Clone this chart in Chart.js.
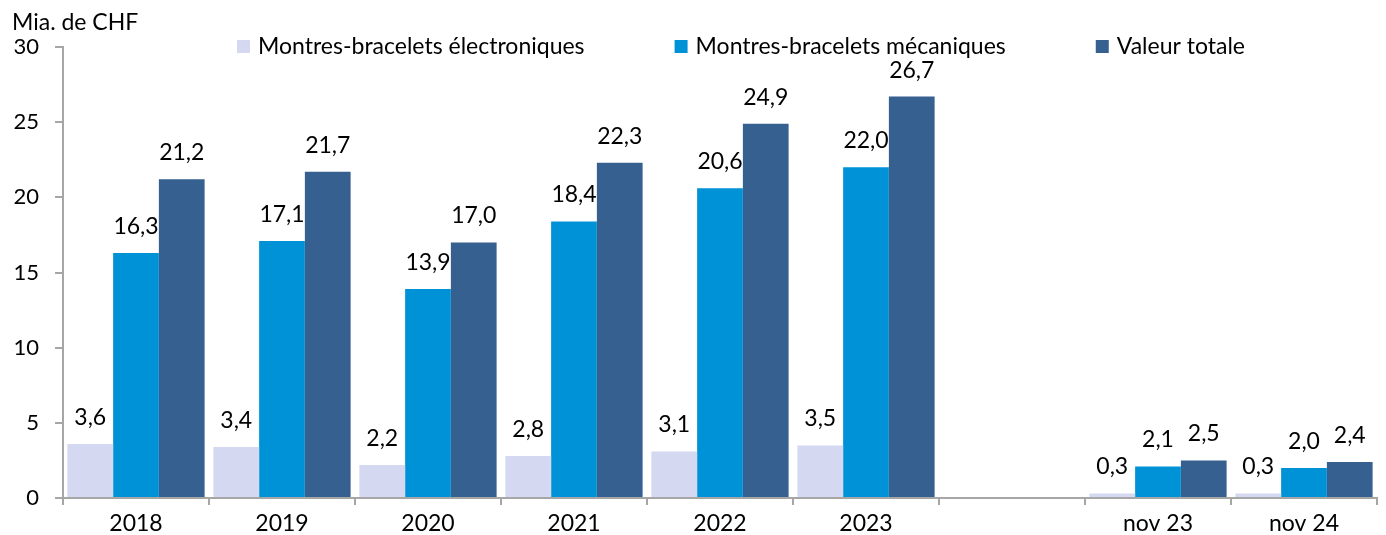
<!DOCTYPE html>
<html>
<head>
<meta charset="utf-8">
<script src="https://cdn.jsdelivr.net/npm/chart.js@4.4.1/dist/chart.umd.min.js"></script>
<style>
  html, body { margin: 0; padding: 0; background: #fff; }
  #wrap { width: 1386px; height: 535px; }
</style>
</head>
<body>
<div id="wrap"><canvas id="watchChart" width="1386" height="535"></canvas></div>
<script>
const categories = ['2018', '2019', '2020', '2021', '2022', '2023', '', 'nov 23', 'nov 24'];
const electronic = [3.6, 3.4, 2.2, 2.8, 3.1, 3.5, null, 0.3, 0.3];
const mechanical = [16.3, 17.1, 13.9, 18.4, 20.6, 22.0, null, 2.1, 2.0];
const totalValue = [21.2, 21.7, 17.0, 22.3, 24.9, 26.7, null, 2.5, 2.4];
const seriesNames = ['Montres-bracelets électroniques', 'Montres-bracelets mécaniques', 'Valeur totale'];
const yTicks = [0, 5, 10, 15, 20, 25, 30];
const unitLabel = 'Mia. de CHF';

const colors = ['#d4d9f1', '#0092d6', '#36608f'];
const fontFamily = 'Lato, "Open Sans", sans-serif';
const axisColor = '#a6a6a6';

// value labels above each bar, comma decimals
const valueLabels = {
    id: 'valueLabels',
    afterDatasetsDraw(chart) {
        const ctx = chart.ctx;
        ctx.save();
        ctx.font = '23px ' + fontFamily;
        ctx.fillStyle = '#000';
        ctx.textAlign = 'center';
        ctx.textBaseline = 'alphabetic';
        chart.data.datasets.forEach((ds, i) => {
            const meta = chart.getDatasetMeta(i);
            meta.data.forEach((bar, j) => {
                const v = ds.data[j];
                if (v === null) return;
                ctx.fillText(v.toFixed(1).replace('.', ','), bar.x, bar.y - 19);
            });
        });
        ctx.restore();
    }
};

// unit title top-left and legend drawn over the top of the plot
const topTexts = {
    id: 'topTexts',
    afterDraw(chart) {
        const ctx = chart.ctx;
        ctx.save();
        ctx.fillStyle = '#000';
        ctx.textBaseline = 'alphabetic';
        ctx.textAlign = 'left';
        ctx.font = '23px ' + fontFamily;
        ctx.fillText(unitLabel, 12, 30);

        const ds = chart.data.datasets;
        const itemW = ds.map(d => 21 + ctx.measureText(d.label).width);
        const span = 1008;
        const gap = (span - itemW.reduce((a, b) => a + b, 0)) / (ds.length - 1);
        let x = 237;
        const y = 40;
        ds.forEach((d, i) => {
            ctx.fillStyle = d.backgroundColor;
            ctx.fillRect(x, y, 13, 13);
            ctx.fillStyle = '#000';
            ctx.fillText(d.label, x + 21, y + 14);
            x += itemW[i] + gap;
        });
        ctx.restore();
    }
};

new Chart(document.getElementById('watchChart'), {
    type: 'bar',
    data: {
        labels: categories,
        datasets: [
            { label: seriesNames[0], data: electronic, backgroundColor: colors[0] },
            { label: seriesNames[1], data: mechanical, backgroundColor: colors[1] },
            { label: seriesNames[2], data: totalValue, backgroundColor: colors[2] }
        ]
    },
    options: {
        responsive: false,
        animation: false,
        devicePixelRatio: 1,
        layout: { padding: { top: 47, right: 9, left: 0, bottom: 0 } },
        datasets: { bar: { categoryPercentage: 0.94, barPercentage: 1.0 } },
        plugins: {
            legend: { display: false },
            tooltip: { enabled: false },
            title: { display: false }
        },
        scales: {
            x: {
                offset: true,
                grid: {
                    offset: true,
                    drawOnChartArea: false,
                    drawTicks: true,
                    tickLength: 7,
                    color: axisColor,
                    lineWidth: 2
                },
                border: { color: axisColor, width: 2 },
                ticks: {
                    color: '#000',
                    font: { family: fontFamily, size: 23 },
                    padding: 5,
                    maxRotation: 0,
                    autoSkip: false
                },
                afterFit: (s) => { s.height = 37; }
            },
            y: {
                min: 0,
                max: 30,
                afterBuildTicks: (s) => { s.ticks = yTicks.map(v => ({ value: v })); },
                grid: {
                    drawOnChartArea: false,
                    drawTicks: true,
                    tickLength: 8,
                    color: axisColor,
                    lineWidth: 2
                },
                border: { color: axisColor, width: 2 },
                ticks: {
                    color: '#000',
                    font: { family: fontFamily, size: 22 },
                    padding: 16
                },
                afterFit: (s) => { s.width = 63; }
            }
        }
    },
    plugins: [valueLabels, topTexts]
});
</script>
</body>
</html>
